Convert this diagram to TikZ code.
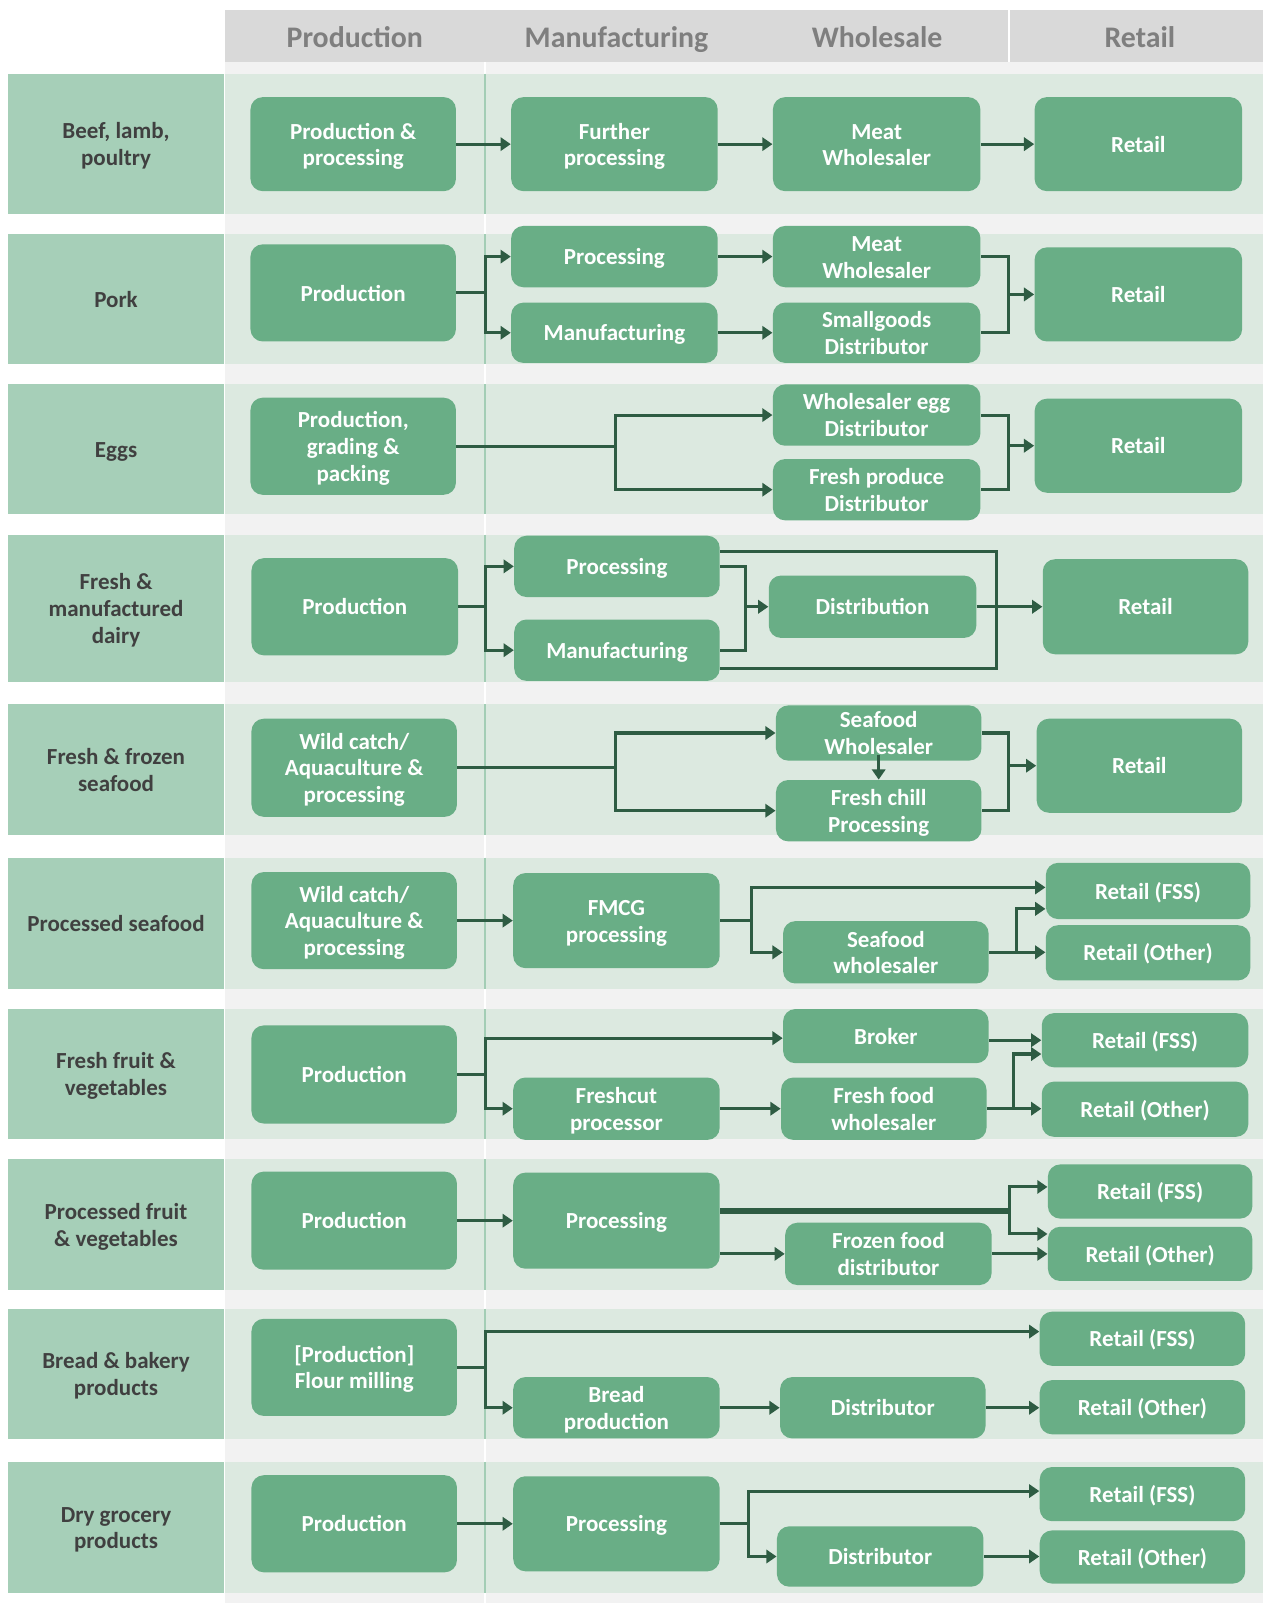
\documentclass[tikz,border=0pt]{standalone}
\usepackage{fontspec}
\setmainfont{Carlito}
\usetikzlibrary{arrows.meta}

\definecolor{hdrgray}{HTML}{D9D9D9}
\definecolor{hdrtext}{HTML}{7F7F7F}
\definecolor{gapgray}{HTML}{F2F2F2}
\definecolor{band}{HTML}{DCE9E0}
\definecolor{lblfill}{HTML}{A6CFB8}
\definecolor{boxfill}{HTML}{69AE86}
\definecolor{flow}{HTML}{2E5C43}
\definecolor{lbltext}{HTML}{404040}
\definecolor{divline}{HTML}{A3CDB5}

% line strut: keeps every line's height/depth the same
\newcommand\lstrut{\rule[-2.5pt]{0pt}{13pt}}

% rounded green step box given by its corners
\newcommand\flowbox[6]{%
  \node[gbox, minimum width={(#4-#2)*0.5pt}, minimum height={(#5-#3)*0.5pt}]
    (#1) at ({(#2+#4)/2},{(#3+#5)/2}) {\lstrut#6\lstrut};}

% one product row: band, category cell, divider and category name
\newcommand\rowband[4]{%
  \fill[band] (220,#2) rectangle (1235,#3);
  \fill[lblfill] (8,#2) rectangle (219,#3);
  \draw[divline, line width=0.6pt] (474.5,#2) -- (474.5,#3);
  \node[lbl] (#1) at (113.5,{(#2+#3)/2}) {\lstrut#4\lstrut};}

\begin{document}
\begin{tikzpicture}[
  x=0.5pt, y=-0.5pt,
  gbox/.style={fill=boxfill, rounded corners=6pt, text=white, inner sep=0pt,
    align=center, font=\fontsize{11.25}{13}\selectfont\bfseries},
  lbl/.style={text=lbltext, inner sep=0pt, align=center,
    font=\fontsize{11.25}{13}\selectfont\bfseries},
  hdr/.style={text=hdrtext, inner sep=0pt, anchor=base,
    font=\fontsize{14.6}{17}\selectfont\bfseries},
  flowline/.style={draw=flow, line width=1.5pt},
  arr/.style={flowline, -{Triangle[length=5pt,width=6.5pt]}}
]
\useasboundingbox (0,0) rectangle (1235,1568);
\fill[white] (0,0) rectangle (1235,1568);

% column area and header
\fill[gapgray] (220,61) rectangle (1235,1568);
\draw[white, line width=0.8pt] (474.5,61) -- (474.5,1568);
\fill[hdrgray] (220,10) rectangle (1235,61);
\draw[white, line width=1pt] (987,10) -- (987,61);
\node[hdr] (h1) at (347,46) {Production};
\node[hdr] (h2) at (603,46) {Manufacturing};
\node[hdr] (h3) at (858,46) {Wholesale};
\node[hdr] (h4) at (1115,46) {Retail};

% category rows
\rowband{l1}{72}{209}{Beef, lamb,\\poultry}
\rowband{l2}{229}{356}{Pork}
\rowband{l3}{376}{503}{Eggs}
\rowband{l4}{523}{667}{Fresh \&\\manufactured\\dairy}
\rowband{l5}{689}{817}{Fresh \& frozen\\seafood}
\rowband{l6}{839}{967}{Processed seafood}
\rowband{l7}{987}{1114}{Fresh fruit \&\\vegetables}
\rowband{l8}{1134}{1262}{Processed fruit\\\& vegetables}
\rowband{l9}{1280}{1408}{Bread \& bakery\\products}
\rowband{l10}{1430}{1558}{Dry grocery\\products}

% Beef, lamb, poultry
\flowbox{b1a}{245}{95}{446}{187}{Production \&\\processing}
\flowbox{b1b}{500}{95}{702}{187}{Further\\processing}
\flowbox{b1c}{756}{95}{959}{187}{Meat\\Wholesaler}
\flowbox{b1d}{1012}{95}{1215}{187}{Retail}
\draw[arr] (b1a) -- (b1b);
\draw[arr] (b1b) -- (b1c);
\draw[arr] (b1c) -- (b1d);

% Pork
\flowbox{b2a}{245}{239}{446}{334}{Production}
\flowbox{b2b}{500}{221}{702}{281}{Processing}
\flowbox{b2c}{500}{296}{702}{355}{Manufacturing}
\flowbox{b2d}{756}{221}{959}{281}{Meat\\Wholesaler}
\flowbox{b2e}{756}{296}{959}{355}{Smallgoods\\Distributor}
\flowbox{b2f}{1012}{242}{1215}{334}{Retail}
\coordinate (j2a) at (474.5,286.5);
\draw[flowline] (b2a.east) -- (j2a);
\draw[arr] (j2a) |- (b2b.west);
\draw[arr] (j2a) |- (b2c.west);
\draw[arr] (b2b) -- (b2d);
\draw[arr] (b2c) -- (b2e);
\coordinate (j2b) at (986.5,288);
\draw[flowline] (b2d.east) -| (j2b) |- (b2e.east);
\draw[arr] (j2b) -- (b2f.west |- j2b);

% Eggs
\flowbox{b3a}{245}{389}{446}{484}{Production,\\grading \&\\packing}
\flowbox{b3b}{756}{376}{959}{436}{Wholesaler egg\\Distributor}
\flowbox{b3c}{756}{449}{959}{509}{Fresh produce\\Distributor}
\flowbox{b3d}{1012}{390}{1215}{482}{Retail}
\coordinate (j3a) at (602,436.5);
\draw[flowline] (b3a.east) -- (j3a);
\draw[arr] (j3a) |- (b3b.west);
\draw[arr] (j3a) |- (b3c.west);
\coordinate (j3b) at (986.5,436);
\draw[flowline] (b3b.east) -| (j3b) |- (b3c.east);
\draw[arr] (j3b) -- (b3d.west |- j3b);

% Fresh & manufactured dairy
\flowbox{b4a}{246}{546}{448}{641}{Production}
\flowbox{b4b}{503}{524}{704}{584}{Processing}
\flowbox{b4c}{503}{606}{704}{666}{Manufacturing}
\flowbox{b4d}{752}{563}{955}{624}{Distribution}
\flowbox{b4e}{1020}{547}{1221}{640}{Retail}
\coordinate (j4a) at (475,593.5);
\draw[flowline] (b4a.east) -- (j4a);
\draw[arr] (j4a) |- (b4b.west);
\draw[arr] (j4a) |- (b4c.west);
\coordinate (j4b) at (729.5,593.5);
\draw[flowline] (b4b.east) -| (j4b) |- (b4c.east);
\draw[arr] (j4b) -- (b4d.west);
\coordinate (j4c) at (975,539.5);
\coordinate (j4d) at (975,653.5);
\draw[flowline] (b4b.east |- j4c) -- (j4c) -- (j4d) -- (b4c.east |- j4d);
\draw[arr] (b4d) -- (b4e);

% Fresh & frozen seafood
\flowbox{b5a}{246}{703}{447}{799}{Wild catch/\\Aquaculture \&\\processing}
\flowbox{b5b}{759}{690}{960}{744}{Seafood\\Wholesaler}
\flowbox{b5c}{759}{763}{960}{823}{Fresh chill\\Processing}
\flowbox{b5d}{1014}{703}{1215}{795}{Retail}
\coordinate (j5a) at (602,751);
\draw[flowline] (b5a.east) -- (j5a);
\draw[arr] (j5a) |- (b5b.west);
\draw[arr] (j5a) |- (b5c.west);
\draw[arr] ([yshift=3pt]b5b.south) -- (b5c.north);
\coordinate (j5b) at (986.5,749);
\draw[flowline] (b5b.east) -| (j5b) |- (b5c.east);
\draw[arr] (j5b) -- (b5d.west |- j5b);

% Processed seafood
\flowbox{b6a}{246}{853}{447}{948}{Wild catch/\\Aquaculture \&\\processing}
\flowbox{b6b}{502}{854}{704}{947}{FMCG\\processing}
\flowbox{b6c}{766}{901}{967}{962}{Seafood\\wholesaler}
\flowbox{b6d}{1023}{844}{1223}{899}{Retail (FSS)}
\flowbox{b6e}{1023}{905}{1223}{959}{Retail (Other)}
\draw[arr] (b6a) -- (b6b);
\coordinate (j6a) at (735.5,900.5);
\coordinate (j6t) at (735.5,868);
\draw[flowline] (b6b.east) -- (j6a);
\draw[arr] (j6a) -- (j6t) -- (b6d.west |- j6t);
\draw[arr] (j6a) |- (b6c.west);
\draw[arr] (b6c.east) -- (b6e.west |- b6c.east);
\coordinate (j6b) at (994.5,931.5);
\coordinate (j6c) at (994.5,889);
\draw[arr] (j6b) -- (j6c) -- (b6d.west |- j6c);

% Fresh fruit & vegetables
\flowbox{b7a}{246}{1003}{447}{1099}{Production}
\flowbox{b7b}{766}{987}{967}{1040}{Broker}
\flowbox{b7c}{502}{1054}{704}{1115}{Freshcut\\processor}
\flowbox{b7d}{764}{1054}{965}{1115}{Fresh food\\wholesaler}
\flowbox{b7e}{1019}{991}{1221}{1044}{Retail (FSS)}
\flowbox{b7f}{1019}{1058}{1221}{1112}{Retail (Other)}
\coordinate (j7a) at (475,1051);
\coordinate (j7t) at (475,1015.5);
\draw[flowline] (b7a.east) -- (j7a);
\draw[arr] (j7a) -- (j7t) -- (b7b.west |- j7t);
\draw[arr] (j7a) |- (b7c.west);
\draw[arr] (b7c) -- (b7d);
\draw[arr] (b7b.east |- b7e.west) -- (b7e.west);
\draw[arr] (b7d.east) -- (b7f.west |- b7d.east);
\coordinate (j7b) at (991.5,1084.5);
\coordinate (j7c) at (991.5,1031);
\draw[arr] (j7b) -- (j7c) -- (b7e.west |- j7c);

% Processed fruit & vegetables
\flowbox{b8a}{246}{1146}{447}{1242}{Production}
\flowbox{b8b}{502}{1147}{704}{1241}{Processing}
\flowbox{b8c}{768}{1196}{970}{1257}{Frozen food\\distributor}
\flowbox{b8d}{1025}{1139}{1225}{1192}{Retail (FSS)}
\flowbox{b8e}{1025}{1200}{1225}{1253}{Retail (Other)}
\draw[arr] (b8a) -- (b8b);
\coordinate (j8a) at (987.5,1184.5);
\coordinate (j8t) at (987.5,1161);
\coordinate (j8b) at (987.5,1207);
\draw[flowline, line width=2.6pt] (b8b.east |- j8a) -- (j8a);
\draw[arr] (j8b) -- (j8t) -- (b8d.west |- j8t);
\draw[arr] (j8t) -- (j8b) -- (b8e.west |- j8b);
\draw[arr] (b8b.east |- b8c.west) -- (b8c.west);
\draw[arr] (b8c.east) -- (b8e.west |- b8c.east);

% Bread & bakery products
\flowbox{b9a}{246}{1290}{447}{1385}{[Production]\\Flour milling}
\flowbox{b9b}{502}{1347}{704}{1407}{Bread\\production}
\flowbox{b9c}{763}{1347}{964}{1407}{Distributor}
\flowbox{b9d}{1017}{1283}{1218}{1336}{Retail (FSS)}
\flowbox{b9e}{1017}{1350}{1218}{1403}{Retail (Other)}
\coordinate (j9a) at (475,1337.5);
\coordinate (j9t) at (475,1302.5);
\draw[flowline] (b9a.east) -- (j9a);
\draw[arr] (j9a) -- (j9t) -- (b9d.west |- j9t);
\draw[arr] (j9a) |- (b9b.west);
\draw[arr] (b9b) -- (b9c);
\draw[arr] (b9c.east) -- (b9e.west |- b9c.east);

% Dry grocery products
\flowbox{b10a}{246}{1443}{447}{1538}{Production}
\flowbox{b10b}{502}{1444}{704}{1537}{Processing}
\flowbox{b10c}{760}{1493}{962}{1552}{Distributor}
\flowbox{b10d}{1017}{1435}{1218}{1488}{Retail (FSS)}
\flowbox{b10e}{1017}{1497}{1218}{1549}{Retail (Other)}
\draw[arr] (b10a) -- (b10b);
\coordinate (j10a) at (732.5,1490.5);
\coordinate (j10t) at (732.5,1458.5);
\draw[flowline] (b10b.east) -- (j10a);
\draw[arr] (j10a) -- (j10t) -- (b10d.west |- j10t);
\draw[arr] (j10a) |- (b10c.west);
\draw[arr] (b10c.east) -- (b10e.west |- b10c.east);
\end{tikzpicture}
\end{document}
